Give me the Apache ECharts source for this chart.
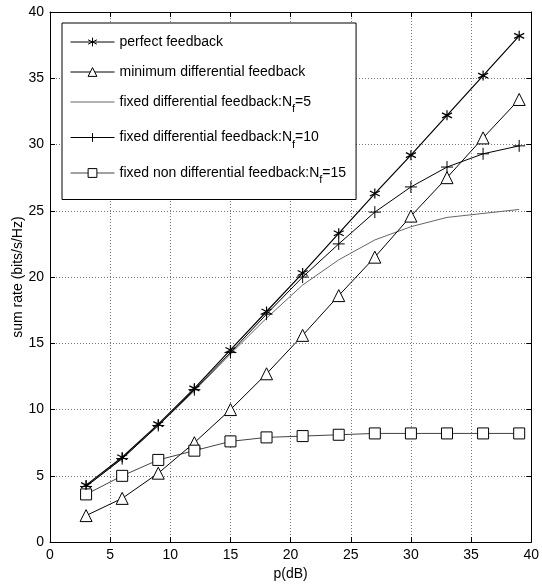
<!DOCTYPE html>
<html lang="en">
  <head>
    <meta charset="UTF-8" />
    <title>sum rate</title>
    <script src="https://cdn.jsdelivr.net/npm/echarts@6/dist/echarts.min.js"></script>
    <style>
      html, body { margin: 0; padding: 0; background: #fff; }
    </style>
  </head>
  <body>
    <div id="main" style="width: 542px;height:586px;"></div>
    <script type="text/javascript">
      // x positions (dB)
      var pdB = [3, 6, 9, 12, 15, 18, 21, 24, 27, 30, 33, 36, 39];
      var perfect = [4.3, 6.4, 8.9, 11.6, 14.5, 17.4, 20.3, 23.3, 26.3, 29.2, 32.2, 35.2, 38.2];
      var minDiff = [2.0, 3.3, 5.2, 7.5, 10.0, 12.7, 15.6, 18.6, 21.5, 24.6, 27.5, 30.5, 33.4];
      var fixed5 = [4.2, 6.3, 8.8, 11.4, 14.2, 16.9, 19.4, 21.3, 22.8, 23.8, 24.5, 24.8, 25.1];
      var fixed10 = [4.2, 6.3, 8.8, 11.5, 14.3, 17.2, 20.0, 22.5, 24.9, 26.8, 28.3, 29.3, 29.9];
      var nonDiff15 = [3.6, 5.0, 6.2, 6.9, 7.6, 7.9, 8.0, 8.1, 8.2, 8.2, 8.2, 8.2, 8.2];
      var ticks = [0, 5, 10, 15, 20, 25, 30, 35, 40];

      var names = [
        "perfect feedback",
        "minimum differential feedback",
        "fixed differential feedback:Nf=5",
        "fixed differential feedback:Nf=10",
        "fixed non differential feedback:Nf=15",
      ];

      function pairs(ys) {
        return pdB.map(function (x, i) { return [x, ys[i]]; });
      }

      var FONT = "Liberation Sans";
      var asterisk = "path://M5,0L5,10M0.67,2.5L9.33,7.5M0.67,7.5L9.33,2.5";
      var plus = "path://M5,0L5,10M0,5L10,5";

      var myChart = echarts.init(document.getElementById("main"));

      function axisBase(pos, showLabel) {
        return {
          type: "value",
          position: pos,
          min: ticks[0],
          max: ticks[ticks.length - 1],
          interval: 5,
          axisLine: { show: true, onZero: false, lineStyle: { color: "#000", width: 1 } },
          axisTick: { show: true, inside: true, length: 5, lineStyle: { color: "#000" } },
          axisLabel: { show: showLabel, color: "#000", fontFamily: FONT, fontSize: 14, margin: 6 },
          splitLine: { show: showLabel, lineStyle: { type: [1, 2], color: "#777", width: 1 } },
        };
      }

      var xBottom = axisBase("bottom", true);
      xBottom.name = "p(dB)";
      xBottom.nameLocation = "middle";
      xBottom.nameGap = 24;
      xBottom.nameTextStyle = { color: "#000", fontFamily: FONT, fontSize: 14 };
      var yLeft = axisBase("left", true);
      yLeft.name = "sum rate (bits/s/Hz)";
      yLeft.nameLocation = "middle";
      yLeft.nameGap = 25;
      yLeft.nameMoveOverlap = false;
      yLeft.nameTextStyle = { color: "#000", fontFamily: FONT, fontSize: 14 };

      var thinLegend = { lineStyle: { width: 1 }, itemStyle: { borderWidth: 1 } };

      option = {
        animation: false,
        backgroundColor: "#fff",
        grid: { left: 50, right: 9, top: 12, bottom: 30 },
        xAxis: [xBottom, axisBase("top", false)],
        yAxis: [yLeft, axisBase("right", false)],
        legend: {
          orient: "vertical",
          left: 62,
          top: 23,
          padding: [12, 10, 14, 8],
          itemGap: 16,
          itemWidth: 44,
          itemHeight: 11,
          backgroundColor: "#fff",
          borderColor: "#000",
          borderWidth: 1,
          borderRadius: 0,
          data: [
            Object.assign({ name: names[0] }, thinLegend),
            Object.assign({ name: names[1] }, thinLegend),
            { name: names[2], lineStyle: { width: 1 }, itemStyle: { opacity: 0 } },
            Object.assign({ name: names[3] }, thinLegend),
            Object.assign({ name: names[4] }, thinLegend),
          ],
          formatter: function (name) {
            return name.replace("Nf", "N{s|f}");
          },
          textStyle: {
            color: "#000",
            fontFamily: FONT,
            fontSize: 14,
            rich: {
              s: { fontFamily: FONT, fontSize: 11, color: "#000", padding: [14, 0, 0, 0] },
            },
          },
        },
        series: [
          {
            name: names[0],
            type: "line",
            data: pairs(perfect),
            symbol: asterisk,
            symbolSize: 10,
            lineStyle: { color: "#000", width: 1.2 },
            itemStyle: { color: "transparent", borderColor: "#000", borderWidth: 1.2 },
            z: 5,
          },
          {
            name: names[1],
            type: "line",
            data: pairs(minDiff),
            symbol: "triangle",
            symbolSize: 12,
            lineStyle: { color: "#000", width: 1 },
            itemStyle: { color: "#fff", borderColor: "#000", borderWidth: 1 },
            z: 4,
          },
          {
            name: names[2],
            type: "line",
            data: pairs(fixed5),
            symbol: "none",
            lineStyle: { color: "#666", width: 1 },
            itemStyle: { color: "#666" },
            z: 3,
          },
          {
            name: names[3],
            type: "line",
            data: pairs(fixed10),
            symbol: plus,
            symbolSize: 12,
            lineStyle: { color: "#000", width: 1 },
            itemStyle: { color: "transparent", borderColor: "#000", borderWidth: 1 },
            z: 4,
          },
          {
            name: names[4],
            type: "line",
            data: pairs(nonDiff15),
            symbol: "rect",
            symbolSize: 11,
            lineStyle: { color: "#444", width: 1 },
            itemStyle: { color: "#fff", borderColor: "#000", borderWidth: 1 },
            z: 4,
          },
        ],
      };

      myChart.setOption(option);
    </script>
  </body>
</html>
